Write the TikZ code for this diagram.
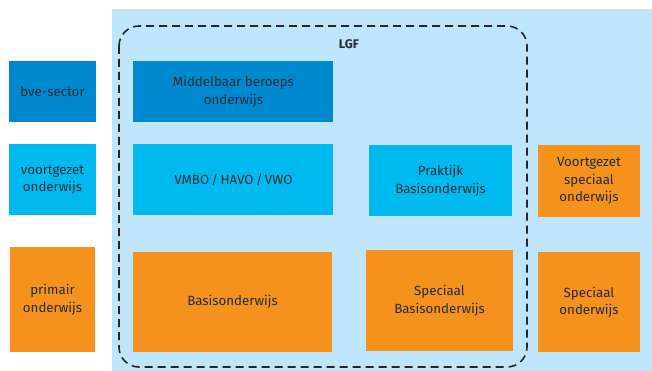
\documentclass[tikz,border=0pt]{standalone}
\usepackage{fontspec}
\setmainfont{Fira Sans}
\usetikzlibrary{positioning}
\definecolor{bvecol}{RGB}{0, 136, 206}
\definecolor{vocol}{RGB}{0, 185, 238}
\definecolor{pocol}{RGB}{245, 146, 30}
\definecolor{lgfbg}{RGB}{190, 229, 249}
\definecolor{txtcol}{RGB}{35, 45, 55}
\tikzstyle{sector} = [rectangle, inner sep=0pt, align=center, text=txtcol,
                      font=\fontsize{13.3}{17.5}\selectfont]
\tikzstyle{bve}    = [sector, fill=bvecol]
\tikzstyle{vo}     = [sector, fill=vocol]
\tikzstyle{po}     = [sector, fill=pocol]
\tikzstyle{lgfline} = [dashed, dash pattern=on 8pt off 5pt, line width=1.6pt,
                       draw=black!85, rounded corners=20pt]

\begin{document}
\begin{tikzpicture}[x=1pt, y=-1pt]
  \useasboundingbox (0,0) rectangle (652,371);
  \fill[lgfbg] (112,9) rectangle (652,371);

  % Left column: sectors
  \node (bve)  [bve, minimum width=87pt, minimum height=61pt]  at (52.5,91.5) {bve-sector};
  \node (vo)   [vo, minimum width=87pt, minimum height=71pt, below=22pt of bve] {voortgezet\\onderwijs};
  \node (po)   [po, minimum width=85pt, minimum height=105pt] at (52.5,299.5) {primair\\onderwijs};

  % Schools
  \node (mbo)  [bve, minimum width=200pt, minimum height=61pt, right=37pt of bve] {Middelbaar beroeps\\onderwijs};
  \node (vmbo) [vo, minimum width=200pt, minimum height=71pt, right=37pt of vo] {VMBO\,/\,HAVO\,/\,VWO};
  \node (bao)  [po, minimum width=199pt, minimum height=100pt] at (232.5,302) {Basisonderwijs};
  \node (pro)  [vo, minimum width=143pt, minimum height=71pt] at (440.5,180.5) {Praktijk\\Basisonderwijs};
  \node (sbo)  [po, minimum width=147pt, minimum height=101pt] at (439.5,300.5) {Speciaal\\Basisonderwijs};
  \node (vso)  [po, minimum width=102pt, minimum height=72pt] at (589,181) {Voortgezet\\speciaal\\onderwijs};
  \node (so)   [po, minimum width=102pt, minimum height=100pt] at (589,302) {Speciaal\\onderwijs};

  % LGF frame
  \draw[lgfline] (119,26) rectangle (527,367);
  \node (lgf) [text=txtcol, font=\fontsize{12.5}{15}\selectfont\bfseries] at (349,44) {LGF};
\end{tikzpicture}
\end{document}
